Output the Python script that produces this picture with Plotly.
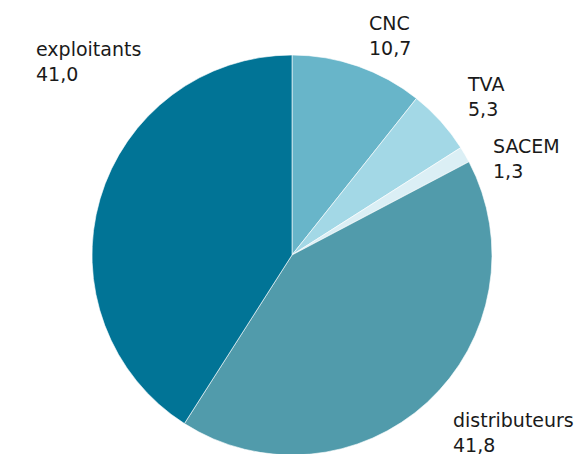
import plotly.graph_objects as go

labels = ["CNC", "TVA", "SACEM", "distributeurs", "exploitants"]
values = [10.7, 5.3, 1.3, 41.8, 41.0]
value_text = ["10,7", "5,3", "1,3", "41,8", "41,0"]
colors = ["#68b5c9", "#a3d8e6", "#dbeff5", "#519bab", "#017496"]

W, H = 582, 454
OFF = 8  # default page body margin shifts the figure by 8px
# label anchor positions in window pixels (left x, middle y of the two-line block)
label_pos = {
    "CNC": (367, 35),
    "TVA": (465, 97),
    "SACEM": (491, 158),
    "distributeurs": (451, 432),
    "exploitants": (34, 61),
}

cx, cy, r = 292 - OFF, 255 - OFF, 200

fig = go.Figure(go.Pie(
    labels=labels,
    values=values,
    marker=dict(colors=colors, line=dict(color="white", width=0.6)),
    sort=False,
    direction="clockwise",
    rotation=0,
    textinfo="none",
    hoverinfo="label+value",
    showlegend=False,
    domain=dict(x=[(cx - r) / W, (cx + r) / W], y=[(H - cy - r) / H, (H - cy + r) / H]),
))

for lab, vt in zip(labels, value_text):
    px, py = label_pos[lab]
    fig.add_annotation(
        x=(px - OFF) / W, y=1 - (py - OFF) / H, xref="paper", yref="paper",
        text=f"{lab}<br>{vt}", showarrow=False,
        xanchor="left", yanchor="middle", align="left",
        font=dict(family="DejaVu Sans, sans-serif", size=19, color="#1a1a1a"),
    )

fig.update_layout(
    width=W, height=H,
    margin=dict(l=0, r=0, t=0, b=0),
    paper_bgcolor="white",
    plot_bgcolor="white",
)

fig.write_html("out.html")
